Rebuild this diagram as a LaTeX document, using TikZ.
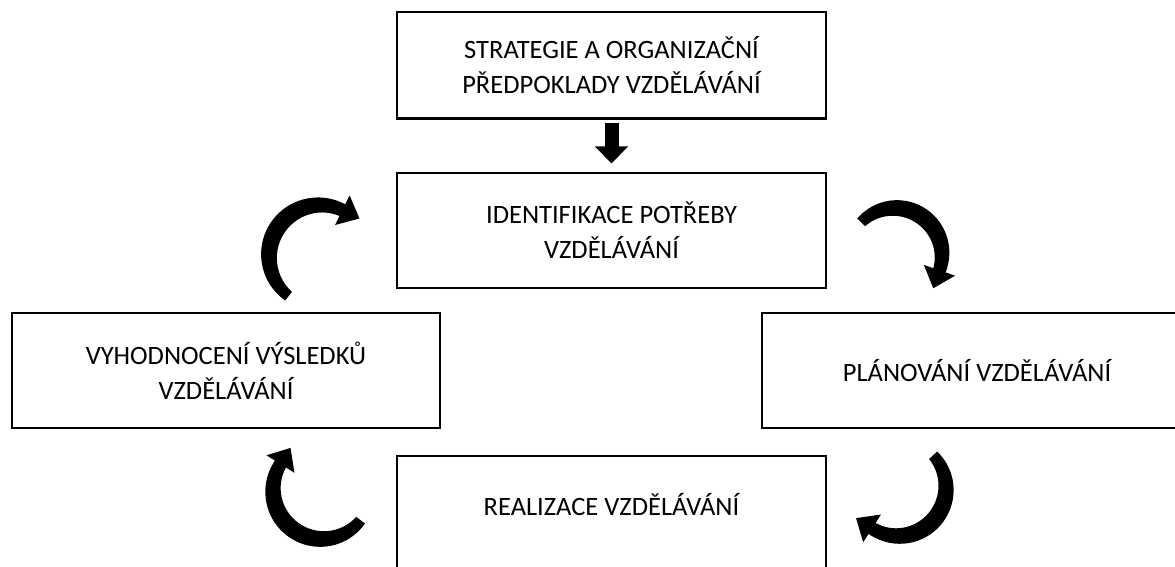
\documentclass[tikz,border=0pt]{standalone}
\usepackage{fontspec}
\setmainfont{Carlito}
\usetikzlibrary{arrows.meta}
% widths of the curved block arrows
\newcommand{\tailw}{11}
\newcommand{\headendw}{13}
\newcommand{\bulgew}{5}
\newcommand{\headhw}{16.5}
\newcommand{\headlen}{19}
% tapered curved block arrow, running clockwise about a centre
% #1,#2 centre, #3 mid radius, #4 tail angle, #5 angle of the head base
\newcommand{\cyclearrow}[5]{%
  \pgfmathsetmacro{\arA}{#4}%
  \pgfmathsetmacro{\arS}{(#5)-(#4)}%
  \pgfmathsetmacro{\arB}{#5}%
  \fill[black]
    plot[domain=0:1, samples=40, variable=\sv]
      ({#1+(#3+0.5*(\tailw+(\headendw-\tailw)*\sv+\bulgew*sin(180*\sv)))*cos(\arA+(\arS)*\sv)},
       {#2+(#3+0.5*(\tailw+(\headendw-\tailw)*\sv+\bulgew*sin(180*\sv)))*sin(\arA+(\arS)*\sv)})
    -- ({#1+(#3+\headhw)*cos(\arB)},{#2+(#3+\headhw)*sin(\arB)})
    -- ({#1+#3*cos(\arB)+\headlen*cos(\arB-90)},{#2+#3*sin(\arB)+\headlen*sin(\arB-90)})
    -- ({#1+(#3-\headhw)*cos(\arB)},{#2+(#3-\headhw)*sin(\arB)})
    -- plot[domain=1:0, samples=40, variable=\sv]
      ({#1+(#3-0.5*(\tailw+(\headendw-\tailw)*\sv+\bulgew*sin(180*\sv)))*cos(\arA+(\arS)*\sv)},
       {#2+(#3-0.5*(\tailw+(\headendw-\tailw)*\sv+\bulgew*sin(180*\sv)))*sin(\arA+(\arS)*\sv)})
    -- cycle;}
\begin{document}
\begin{tikzpicture}[x=1pt,y=1pt,
  stagefont/.style={font=\fontsize{26.5}{35}\selectfont},
  stage/.style={draw=black, line width=2.6pt, fill=white, inner sep=0pt, outer sep=0pt,
    align=center, stagefont},
  feed/.style={line width=14pt, -{Triangle[width=32pt,length=17pt]}}]
\clip (0,0) rectangle (1175,566);
\fill[white] (0,0) rectangle (1175,566);

% stages of the training cycle
\node[stage, minimum width=429pt, minimum height=106.5pt] (strat) at (611.5,500.75)
  {STRATEGIE A ORGANIZAČNÍ\\PŘEDPOKLADY VZDĚLÁVÁNÍ};
\node[stage, minimum width=429pt, minimum height=115pt] (ident) at (611.5,335.5)
  {IDENTIFIKACE POTŘEBY\\VZDĚLÁVÁNÍ};
\node[stage, minimum width=428pt, minimum height=115pt] (eval) at (226,195.5)
  {VYHODNOCENÍ VÝSLEDKŮ\\VZDĚLÁVÁNÍ};
\node[stage, minimum width=430pt, minimum height=115pt] (plan) at (977,195.5)
  {PLÁNOVÁNÍ VZDĚLÁVÁNÍ};
\node[stage, minimum width=429pt, minimum height=120pt] (real) at (611.5,50) {};
\node[stagefont, inner sep=0pt] (realtext) at (611.5,61) {REALIZACE VZDĚLÁVÁNÍ};

% strategy feeds the cycle
\draw[feed] ([yshift=-4.5pt]strat.south) -- ([yshift=9.5pt]ident.north);

% cycle arrows between the stages
\cyclearrow{320}{310}{51}{-128}{-296}
\cyclearrow{895}{311}{47}{-224}{-379}
\cyclearrow{898}{78}{48}{-317}{-482.7}
\cyclearrow{322}{76}{49}{-38}{-212}
\end{tikzpicture}
\end{document}
